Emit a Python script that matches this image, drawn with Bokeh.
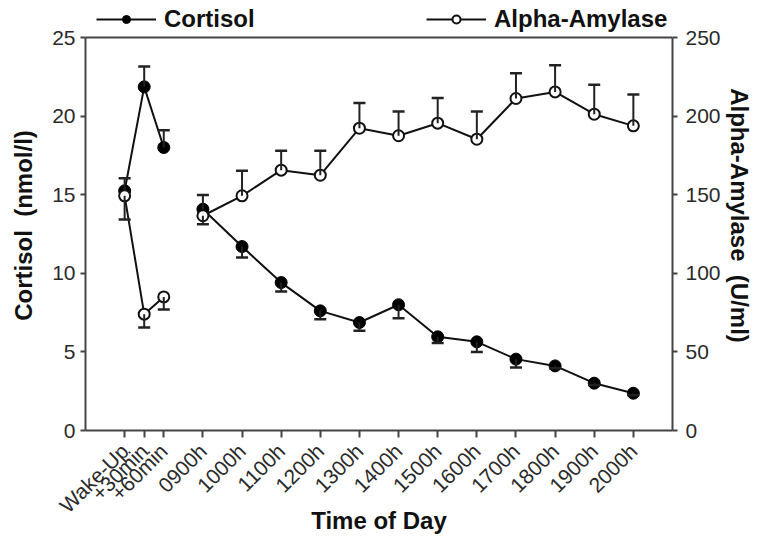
from bokeh.plotting import figure
from bokeh.models import (Range1d, LinearAxis, FixedTicker, Whisker, TeeHead, Span,
                          ColumnDataSource, Legend, LegendItem)
from bokeh.embed import file_html
from bokeh.resources import INLINE

# ---- data ----
time_labels = ["Wake-Up", "+30min", "+60min", "0900h", "1000h", "1100h", "1200h",
               "1300h", "1400h", "1500h", "1600h", "1700h", "1800h", "1900h", "2000h"]
time_hours = [7, 7.5, 8, 9, 10, 11, 12, 13, 14, 15, 16, 17, 18, 19, 20]

cortisol = [15.25, 21.86, 18.0, 14.08, 11.70, 9.41, 7.61, 6.87, 8.0, 5.96,
            5.64, 4.54, 4.11, 3.01, 2.37]
cortisol_se = [0.8, 1.3, 1.1, 0.9, 0.7, 0.57, 0.53, 0.53, 0.86, 0.4,
               0.64, 0.53, 0.15, 0.12, 0.12]
cortisol_se_dir = [1, 1, 1, 1, -1, -1, -1, -1, -1, -1, -1, -1, -1, -1, -1]

amylase = [149.3, 74.0, 85.0, 136.6, 149.3, 165.6, 162.4, 192.3, 187.5, 195.5,
           185.3, 211.2, 215.4, 201.2, 193.8]
amylase_se = [15.0, 8.5, 8.0, 5.4, 16.0, 12.3, 15.5, 16.0, 15.4, 16.0,
              17.6, 16.0, 17.0, 18.7, 20.0]
amylase_se_dir = [-1, -1, -1, -1, 1, 1, 1, 1, 1, 1, 1, 1, 1, 1, 1]

cort_ticks = [0, 5, 10, 15, 20, 25]
amy_ticks = [0, 50, 100, 150, 200, 250]

series_names = ["Cortisol", "Alpha-Amylase"]

FONT = "Liberation Sans"
AXC = "#444444"
NB = "\u00a0"

# frame spans the full top of the canvas; the axes' box is drawn up to 25 / 250,
# the space above is used for the legend
FRAME_H = 430
BOX_H = 393
c_max, a_max = cort_ticks[-1], amy_ticks[-1]
c_top = c_max * FRAME_H / BOX_H
a_top = a_max * FRAME_H / BOX_H

p = figure(width=755, height=538, x_range=Range1d(6, 21), y_range=Range1d(0, c_top),
           output_backend="svg", toolbar_location=None,
           min_border_left=85, min_border_right=80, min_border_top=0,
           min_border_bottom=108)
p.extra_y_ranges = {"amy": Range1d(0, a_top)}
p.grid.visible = False
p.outline_line_color = None

# axes
xa = p.xaxis[0]
xa.ticker = FixedTicker(ticks=time_hours)
xa.major_label_overrides = {h: l for h, l in zip(time_hours, time_labels)}
xa.major_label_orientation = 0.785398
xa.axis_label = "Time of Day"

ya = p.yaxis[0]
ya.ticker = FixedTicker(ticks=cort_ticks)
ya.bounds = (0, c_max)
ya.axis_label = "Cortisol" + NB + " (nmol/l)" + NB * 3
ya.major_label_standoff = 5

ra = LinearAxis(y_range_name="amy")
ra.ticker = FixedTicker(ticks=amy_ticks)
ra.bounds = (0, a_max)
ra.axis_label = "Alpha-Amylase" + NB + " (U/ml)"
ra.major_label_standoff = 8
p.add_layout(ra, "right")

for ax in (xa, ya, ra):
    ax.axis_line_color = AXC
    ax.axis_line_width = 2
    ax.major_tick_line_color = AXC
    ax.major_tick_line_width = 2
    ax.major_tick_in = 0
    ax.major_tick_out = 5
    ax.minor_tick_line_color = None
    ax.major_label_text_font = FONT
    ax.major_label_text_font_size = "21px"
    ax.major_label_text_color = "#2a2a2a"
    ax.axis_label_text_font = FONT
    ax.axis_label_text_font_size = "24px"
    ax.axis_label_text_font_style = "bold"
    ax.axis_label_text_color = "#111111"
xa.major_tick_out = 7
xa.major_label_standoff = 10
xa.axis_label_standoff = -21
ya.axis_label_standoff = 12
ra.axis_label_standoff = 2

# top edge of the box
p.add_layout(Span(location=c_max, dimension="width", line_color=AXC, line_width=2))

# error bars
c_upper = [v + d * e for v, e, d in zip(cortisol, cortisol_se, cortisol_se_dir)]
a_upper = [v + d * e for v, e, d in zip(amylase, amylase_se, amylase_se_dir)]
csrc = ColumnDataSource(dict(x=time_hours, y=cortisol, up=c_upper))
asrc = ColumnDataSource(dict(x=time_hours, y=amylase, up=a_upper))

for src, rng in ((csrc, "default"), (asrc, "amy")):
    w = Whisker(source=src, base="x", lower="y", upper="up", dimension="height",
                line_color="#222222", line_width=2, lower_head=None,
                upper_head=TeeHead(size=12, line_color="#222222", line_width=2.5),
                y_range_name=rng, level="glyph")
    p.add_layout(w)

# lines (morning block and daytime block)
n0 = 3
c_l = p.line(time_hours[:n0], cortisol[:n0], line_color="#111111", line_width=2)
p.line(time_hours[n0:], cortisol[n0:], line_color="#111111", line_width=2)
a_l = p.line(time_hours[:n0], amylase[:n0], line_color="#111111", line_width=2,
             y_range_name="amy")
p.line(time_hours[n0:], amylase[n0:], line_color="#111111", line_width=2,
       y_range_name="amy")

c_s = p.scatter(time_hours, cortisol, marker="circle", size=12,
                fill_color="#000000", line_color="#000000", line_width=1)
a_s = p.scatter(time_hours, amylase, marker="circle", size=11,
                fill_color="white", line_color="#111111", line_width=2,
                y_range_name="amy")

leg = Legend(items=[LegendItem(label=series_names[0], renderers=[c_l, c_s]),
                    LegendItem(label=series_names[1], renderers=[a_l, a_s])],
             location=(11, 397), orientation="horizontal",
             glyph_width=60, glyph_height=20, label_standoff=8, label_width=260,
             spacing=2, padding=0, margin=0, border_line_alpha=0,
             background_fill_alpha=0, label_text_font=FONT,
             label_text_font_size="24px", label_text_font_style="bold",
             label_text_color="#111111")
p.add_layout(leg, "center")

open("out.html", "w").write(file_html(p, INLINE))
